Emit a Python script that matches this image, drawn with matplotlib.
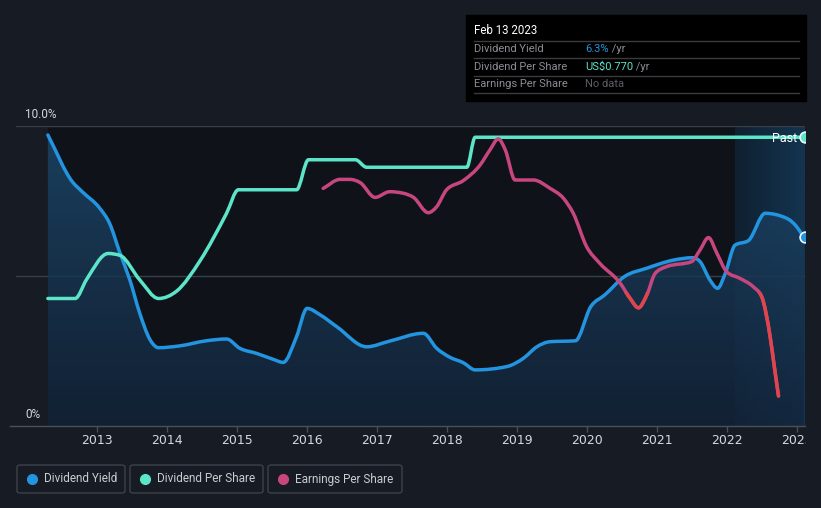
import matplotlib
matplotlib.use("Agg")
import matplotlib.pyplot as plt
import numpy as np
from matplotlib.patches import Rectangle, FancyBboxPatch, PathPatch
from matplotlib.path import Path
from matplotlib.colors import LinearSegmentedColormap

# ---------------- data ----------------
yield_years = [2012.30, 2012.65, 2012.79, 2013.04, 2013.18, 2013.33, 2013.47, 2013.61, 2013.76, 2013.88,
               2014.18, 2014.56, 2014.85, 2015.04, 2015.28, 2015.52, 2015.66, 2015.85, 2016.00, 2016.19,
               2016.43, 2016.85, 2017.18, 2017.66, 2017.85, 2018.04, 2018.23, 2018.40, 2018.85, 2019.09,
               2019.28, 2019.47, 2019.83, 2020.05, 2020.25, 2020.53, 2020.85, 2021.23, 2021.51, 2021.61,
               2021.75, 2021.86, 2021.97, 2022.11, 2022.30, 2022.54, 2022.85, 2022.99, 2023.09]
yield_vals = [9.70, 8.14, 7.81, 7.26, 6.76, 5.76, 4.87, 3.77, 2.87, 2.61,
              2.67, 2.84, 2.90, 2.59, 2.42, 2.22, 2.12, 2.98, 3.92, 3.70,
              3.30, 2.64, 2.83, 3.09, 2.59, 2.29, 2.11, 1.87, 1.98, 2.26,
              2.64, 2.81, 2.84, 3.98, 4.37, 4.98, 5.26, 5.53, 5.61, 5.48,
              4.87, 4.59, 5.09, 6.03, 6.18, 7.09, 6.92, 6.64, 6.29]

dps_years = [2012.30, 2012.69, 2012.85, 2013.16, 2013.33, 2013.61, 2013.88, 2014.14, 2014.47, 2014.85,
             2015.02, 2015.85, 2016.02, 2016.69, 2016.85, 2018.28, 2018.40, 2023.11]
dps_vals = [0.34, 0.34, 0.39, 0.46, 0.455, 0.39, 0.34, 0.36, 0.44, 0.567,
            0.63, 0.63, 0.71, 0.71, 0.69, 0.69, 0.77, 0.77]

eps_years = [2016.23, 2016.47, 2016.61, 2016.76, 2016.97, 2017.18, 2017.37, 2017.52, 2017.73, 2017.85,
             2017.99, 2018.23, 2018.47, 2018.61, 2018.73, 2018.83, 2018.97, 2019.23, 2019.47, 2019.66,
             2019.80, 2019.99, 2020.18, 2020.47, 2020.61, 2020.73, 2020.85, 2020.97, 2021.13, 2021.49,
             2021.61, 2021.73, 2021.85, 2021.99, 2022.18, 2022.37, 2022.49, 2022.61, 2022.67, 2022.73]
eps_vals = [0.344, 0.374, 0.374, 0.363, 0.314, 0.333, 0.328, 0.314, 0.263, 0.283,
            0.339, 0.370, 0.422, 0.472, 0.509, 0.472, 0.372, 0.372, 0.344, 0.311,
            0.261, 0.150, 0.094, 0.028, -0.022, -0.054, -0.011, 0.061, 0.083, 0.100,
            0.139, 0.180, 0.128, 0.066, 0.044, 0.016, -0.017, -0.150, -0.250, -0.348]

year_ticks = [2013, 2014, 2015, 2016, 2017, 2018, 2019, 2020, 2021, 2022, 2023]
year_labels = ["2013", "2014", "2015", "2016", "2017", "2018", "2019", "2020", "2021", "2022", "2023"]
y_ticks = [0, 10]
y_labels = ["0%", "10.0%"]
legend_labels = ["Dividend Yield", "Dividend Per Share", "Earnings Per Share"]
tooltip_date = "Feb 13 2023"
tooltip_rows = [("Dividend Yield", "6.3%", " /yr"), ("Dividend Per Share", "US$0.770", " /yr"),
                ("Earnings Per Share", "No data", "")]

# ---------------- style ----------------
FIG_BG = "#171b24"
PLOT_BG = "#0f1319"
BLUE = "#2394df"
TEAL = "#5ce5c8"
PINK = "#c8467f"
RED = "#e0454b"
GRID = "#3a3e47"
TXT = "#d6d8dc"
GRAY = "#8b8e94"

W, H = 821, 508
fig = plt.figure(figsize=(W / 100, H / 100), dpi=100, facecolor=FIG_BG)

def fx(px):
    return px / W

def fy(py):
    return 1 - py / H


def monotone_path(xs, ys, close_to=None):
    """Smooth monotone-x cubic Bezier path through the given points (like d3.curveMonotoneX)."""
    x = np.asarray(xs, float)
    y = np.asarray(ys, float)
    n = len(x)
    h = np.diff(x)
    s = np.diff(y) / h
    m = np.zeros(n)
    m[0], m[-1] = s[0], s[-1]
    for i in range(1, n - 1):
        if s[i - 1] * s[i] <= 0:
            m[i] = 0.0
        else:
            p = (s[i - 1] * h[i] + s[i] * h[i - 1]) / (h[i - 1] + h[i])
            m[i] = np.sign(s[i]) * min(abs(s[i - 1]), abs(s[i]), 0.5 * abs(p)) * 2 if False else \
                (np.sign(s[i - 1]) + np.sign(s[i])) * min(abs(s[i - 1]), abs(s[i]), 0.5 * abs(p))
    verts = [(x[0], y[0])]
    codes = [Path.MOVETO]
    for i in range(n - 1):
        d = h[i] / 3
        verts += [(x[i] + d, y[i] + m[i] * d), (x[i + 1] - d, y[i + 1] - m[i + 1] * d), (x[i + 1], y[i + 1])]
        codes += [Path.CURVE4] * 3
    if close_to is not None:
        verts += [(x[-1], close_to), (x[0], close_to), (x[0], y[0])]
        codes += [Path.LINETO, Path.LINETO, Path.CLOSEPOLY]
    return Path(verts, codes)


ax_l, ax_r, ax_t, ax_b = 16, 805, 126, 426
ax = fig.add_axes([fx(ax_l), fy(ax_b), fx(ax_r - ax_l), (ax_b - ax_t) / H])
ax.set_facecolor(FIG_BG)
x0, x1 = 2011.845, 2023.108
ax.set_xlim(x0, x1)
ax.set_ylim(0, 10)

# dark data region + highlight region
ax.axvspan(yield_years[0], x1, color=PLOT_BG, zorder=0, lw=0)
hl = np.linspace(0, 1, 64).reshape(1, -1)
hl_cmap = LinearSegmentedColormap.from_list("h", ["#0f2030", "#143450"])
ax.imshow(hl, extent=[2022.11, x1, 0, 10], origin="lower", aspect="auto", cmap=hl_cmap, zorder=0.5)

# grid
for gy in [5, 10]:
    ax.axhline(gy, color=GRID, lw=1, zorder=1)

# gradient fill under yield
fill_path = monotone_path(yield_years, yield_vals, close_to=0)
fill_patch = PathPatch(fill_path, facecolor="none", edgecolor="none", transform=ax.transData)
ax.add_patch(fill_patch)
grad = np.linspace(0, 1, 256).reshape(-1, 1)
cmap = LinearSegmentedColormap.from_list("g", ["#13243a", "#1d4a6e"])
im = ax.imshow(grad, extent=[x0, x1, 0, 10], origin="lower", aspect="auto",
               cmap=cmap, alpha=0.8, zorder=2)
im.set_clip_path(fill_patch)

ax.add_patch(PathPatch(monotone_path(yield_years, yield_vals), facecolor="none", edgecolor=BLUE,
                       lw=2.5, capstyle="round", joinstyle="round", zorder=5))

# DPS on own hidden axis (0..0.8)
ax2 = ax.twinx()
ax2.set_ylim(0, 0.8)
ax2.set_xlim(x0, x1)
ax2.axis("off")
ax2.add_patch(PathPatch(monotone_path(dps_years, dps_vals), facecolor="none", edgecolor=TEAL,
                        lw=2.5, capstyle="round", joinstyle="round", zorder=6))
ax2.scatter([x1], [dps_vals[-1]], s=60, color=TEAL, edgecolor="#e8fff9", lw=1.2, zorder=8, clip_on=True)

# EPS on own hidden axis (red where negative)
ax3 = ax.twinx()
ax3.set_ylim(-0.448, 0.552)
ax3.set_xlim(x0, x1)
ax3.axis("off")
eps_path = monotone_path(eps_years, eps_vals)
ax3.add_patch(PathPatch(eps_path, facecolor="none", edgecolor=PINK, lw=2.5,
                        capstyle="round", joinstyle="round", zorder=7))
red = PathPatch(eps_path, facecolor="none", edgecolor=RED, lw=2.5,
                capstyle="round", joinstyle="round", zorder=7.5)
ax3.add_patch(red)
neg_box = Rectangle((x0, -1), x1 - x0, 1.0, transform=ax3.transData, facecolor="none", edgecolor="none")
ax3.add_patch(neg_box)
red.set_clip_path(neg_box)

ax.scatter([x1], [yield_vals[-1]], s=60, color=BLUE, edgecolor="#f0f6ff", lw=1.2, zorder=9, clip_on=True)

# axes styling
for s in ["top", "right", "left"]:
    ax.spines[s].set_visible(False)
ax.spines["bottom"].set_color("#4a4f58")
ax.spines["bottom"].set_linewidth(1)
ax.spines["bottom"].set_bounds(2011.755, x1)
ax.set_yticks([])
ax.set_xticks(year_ticks)
ax.set_xticklabels([])
ax.tick_params(axis="x", colors="#4a4f58", length=4, width=1, direction="out")

tick_font = ["Liberation Sans Narrow", "DejaVu Sans"]
for t, lab in zip(year_ticks, year_labels):
    ax.text(t, -0.48, lab, ha="center", va="center", fontsize=9, color=TXT,
            family=tick_font, transform=ax.transData, clip_on=False)
for v, lab in zip(y_ticks, y_labels):
    fig.text(fx(25), fy(ax_b - v * 30 - 12), lab, ha="left", va="center", fontsize=8.5,
             color=TXT, family=["Roboto", "DejaVu Sans"])

# cover past right edge (clip last year label)
fig.patches.append(Rectangle((fx(806), fy(452)), fx(W - 806), (452 - 428) / H,
                             transform=fig.transFigure, color=FIG_BG, zorder=20))

# "Past" label
fig.text(fx(797), fy(138), "Past", ha="right", va="center", fontsize=9, color="#ffffff",
         family=["Roboto", "DejaVu Sans"], zorder=10)

# tooltip
fig.patches.append(Rectangle((fx(466), fy(101)), fx(806 - 466), (101 - 15) / H,
                             transform=fig.transFigure, color="#000000", zorder=10))
fig.text(fx(474), fy(31), tooltip_date, ha="left", va="center", fontsize=8.3, color="#ffffff",
         family=["Roboto", "DejaVu Sans"], zorder=11)
for ly in [41, 58, 76, 93]:
    fig.add_artist(plt.Line2D([fx(474), fx(799)], [fy(ly), fy(ly)], color="#3b3b3d", lw=1,
                              transform=fig.transFigure, zorder=11))
row_y = [49, 67, 84]
val_cols = [BLUE, TEAL, "#5b5e64"]
fig.canvas.draw()
r = fig.canvas.get_renderer()
for (lab, val, suf), yy, vc in zip(tooltip_rows, row_y, val_cols):
    fig.text(fx(474), fy(yy), lab, ha="left", va="center", fontsize=8, color=GRAY,
             family=["Roboto", "DejaVu Sans"], zorder=11)
    t = fig.text(fx(585), fy(yy), val, ha="left", va="center", fontsize=8, color=vc,
                 family=["Roboto", "DejaVu Sans"], zorder=11)
    if suf:
        bb = t.get_window_extent(renderer=r)
        fig.text(bb.x1 / W, fy(yy), suf, ha="left", va="center", fontsize=8, color=GRAY,
                 family=["Roboto", "DejaVu Sans"], zorder=11)

# legend
boxes = [(17, 125), (130, 263), (268, 402)]
dot_cols = [BLUE, TEAL, PINK]
for (bx0, bx1), lab, dc in zip(boxes, legend_labels, dot_cols):
    fig.patches.append(FancyBboxPatch((fx(bx0), fy(493)), fx(bx1 - bx0), (493 - 465) / H,
                                      boxstyle="round,pad=0,rounding_size=0.004",
                                      transform=fig.transFigure, facecolor=FIG_BG,
                                      edgecolor="#3c414b", lw=1, zorder=10))
    fig.add_artist(plt.Line2D([fx(bx0 + 15)], [fy(479)], marker="o", markersize=7,
                              color=dc, transform=fig.transFigure, zorder=11))
    fig.text(fx(bx0 + 27), fy(479), lab, ha="left", va="center", fontsize=8.5, color="#c9ccd1",
             family=["Roboto", "DejaVu Sans"], zorder=11)

fig.savefig("out.png", dpi=100, facecolor=FIG_BG)
